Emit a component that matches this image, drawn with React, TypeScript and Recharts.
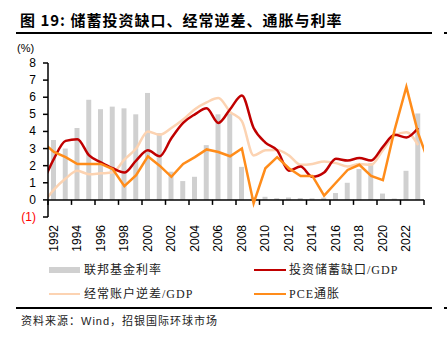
import React from 'react';
import {
  ComposedChart,
  Bar,
  Line,
  XAxis,
  YAxis,
  ReferenceLine,
} from 'recharts';

// 年份（线条含1991与2024两端点，用于延伸到坐标轴边缘）
const years = [
  1991, 1992, 1993, 1994, 1995, 1996, 1997, 1998, 1999, 2000, 2001, 2002,
  2003, 2004, 2005, 2006, 2007, 2008, 2009, 2010, 2011, 2012, 2013, 2014,
  2015, 2016, 2017, 2018, 2019, 2020, 2021, 2022, 2023, 2024,
];

const fedFunds = [
  null, 3.5, 3.0, 4.2, 5.85, 5.3, 5.45, 5.35, 5.0, 6.25, 3.9, 1.65,
  1.1, 1.35, 3.2, 5.0, 5.05, 1.93, 0.16, 0.18, 0.1, 0.14, 0.11, 0.09,
  0.13, 0.4, 1.0, 1.8, 2.15, 0.37, 0.08, 1.7, 5.05, null,
];

const investGap = [
  0.9, 2.4, 3.45, 3.55, 2.6, 2.2, 1.85, 1.6, 2.3, 2.9, 2.55, 3.6,
  4.5, 5.0, 5.35, 4.5, 5.3, 6.1, 4.2, 3.35, 2.9, 1.7, 1.95, 1.35,
  1.6, 2.4, 2.3, 2.45, 2.3, 3.1, 3.8, 3.65, 4.2, null,
];

const caDeficit = [
  -0.3, 0.6, 1.25, 1.7, 1.5, 1.55, 1.6, 2.35, 3.0, 4.0, 3.8, 4.2,
  4.7, 5.3, 5.7, 5.95, 5.15, 4.6, 2.6, 2.9, 2.92, 2.6, 2.05, 2.1,
  2.25, 2.15, 1.95, 2.1, 2.05, 2.9, 3.75, 3.95, 3.2, null,
];

const pce = [
  3.4, 2.8, 2.5, 2.1, 2.1, 2.1, 1.8, 0.8, 1.45, 2.55, 2.0, 1.35,
  2.1, 2.5, 2.95, 2.8, 2.55, 3.0, -0.2, 1.85, 2.5, 1.85, 1.4, 1.4,
  0.25, 1.0, 1.75, 2.05, 1.4, 1.15, 4.1, 6.6, 3.9, 2.0,
];

const yTicks = [-1, 0, 1, 2, 3, 4, 5, 6, 7, 8];
const xTickBounds = [
  1991.5, 1993.5, 1995.5, 1997.5, 1999.5, 2001.5, 2003.5, 2005.5, 2007.5,
  2009.5, 2011.5, 2013.5, 2015.5, 2017.5, 2019.5, 2021.5, 2023.5,
];

const data = years.map((y, i) => ({
  year: y,
  fed: fedFunds[i],
  gap: investGap[i],
  ca: caDeficit[i],
  pce: pce[i],
}));

const PLOT_LEFT = 48;
const PLOT_RIGHT = 424;
const PLOT_TOP = 63;
const PLOT_H = 154;
const ZERO_Y = PLOT_TOP + (PLOT_H * 8) / 9;
const HALF_BAND = (PLOT_RIGHT - PLOT_LEFT) / 32 / 2;

const XTick = (props: any) => {
  const { x, payload } = props;
  const year = payload.value + 0.5;
  const showLabel = year <= 2022 && (year - 1992) % 2 === 0;
  return (
    <g>
      <line x1={x} x2={x} y1={ZERO_Y} y2={ZERO_Y + 5} stroke="#000" strokeWidth={1.5} />
      {showLabel && (
        <text
          transform={`translate(${x + HALF_BAND},225) rotate(-90)`}
          textAnchor="end"
          dominantBaseline="central"
          fontSize={12}
          fill="#000"
          fontFamily="'Liberation Sans', Arial, sans-serif"
        >
          {year}
        </text>
      )}
    </g>
  );
};

const YTick = (props: any) => {
  const { x, y, payload } = props;
  const neg = payload.value < 0;
  return (
    <text
      x={x}
      y={y}
      textAnchor="end"
      dominantBaseline="central"
      fontSize={12}
      fill={neg ? '#ff0000' : '#000'}
      fontFamily="'Liberation Sans', Arial, sans-serif"
    >
      {neg ? `(${Math.abs(payload.value)})` : payload.value}
    </text>
  );
};

const legendText: React.CSSProperties = {
  position: 'absolute',
  fontSize: 12,
  fontFamily: "'Liberation Serif', 'Noto Sans CJK SC', serif",
  letterSpacing: 1,
  lineHeight: '14px',
  color: '#222',
};

export default function App() {
  return (
    <div
      style={{
        position: 'absolute',
        left: 0,
        top: 0,
        width: 447,
        height: 340,
        background: '#fff',
        overflow: 'hidden',
      }}
    >
      <div
        style={{
          position: 'absolute',
          left: 20,
          top: 10,
          fontSize: 15,
          fontWeight: 700,
          letterSpacing: 1,
          fontFamily: "'Noto Sans CJK SC', sans-serif",
          lineHeight: '20px',
          whiteSpace: 'nowrap',
        }}
      >
        图 19: 储蓄投资缺口、经常逆差、通胀与利率
      </div>
      <div style={{ position: 'absolute', left: 16, top: 32, width: 416, height: 2, background: '#000' }} />
      <div style={{ position: 'absolute', left: 444, top: 32, width: 3, height: 2, background: '#000' }} />
      <div
        style={{
          position: 'absolute',
          left: 17,
          top: 41,
          fontSize: 11,
          fontFamily: "'Liberation Sans', Arial, sans-serif",
          lineHeight: '14px',
        }}
      >
        (%)
      </div>

      <div style={{ position: 'absolute', left: 0, top: 0 }}>
        <ComposedChart
          width={447}
          height={290}
          data={data}
          margin={{ top: PLOT_TOP, right: 447 - PLOT_RIGHT, left: PLOT_LEFT - 30, bottom: 13 }}
        >
          <XAxis
            dataKey="year"
            type="number"
            domain={[1991.5, 2023.5]}
            allowDataOverflow
            ticks={xTickBounds}
            interval={0}
            axisLine={false}
            tickLine={false}
            tick={<XTick />}
            height={60}
          />
          <YAxis
            type="number"
            domain={[-1, 8]}
            ticks={yTicks}
            interval={0}
            width={30}
            tickSize={5}
            tickMargin={7}
            axisLine={{ stroke: '#000', strokeWidth: 1.5 }}
            tickLine={{ stroke: '#000', strokeWidth: 1.5 }}
            tick={<YTick />}
          />
          <Bar dataKey="fed" fill="#d0d0d0" barSize={5} isAnimationActive={false} />
          <ReferenceLine y={0} stroke="#000" strokeWidth={1.5} />
          <Line
            type="monotone"
            dataKey="ca"
            stroke="#fcd3b2"
            strokeWidth={2.5}
            dot={false}
            isAnimationActive={false}
          />
          <Line
            type="monotone"
            dataKey="gap"
            stroke="#c00000"
            strokeWidth={2.5}
            dot={false}
            isAnimationActive={false}
          />
          <Line
            type="linear"
            dataKey="pce"
            stroke="#ff8c1a"
            strokeWidth={2.5}
            dot={false}
            isAnimationActive={false}
          />
        </ComposedChart>
      </div>

      <div style={{ position: 'absolute', left: 49, top: 267, width: 31, height: 6, background: '#d0d0d0' }} />
      <div style={{ ...legendText, left: 84, top: 263 }}>联邦基金利率</div>
      <div style={{ position: 'absolute', left: 254, top: 269, width: 32, height: 2, background: '#c00000' }} />
      <div style={{ ...legendText, left: 289, top: 263 }}>投资储蓄缺口/GDP</div>
      <div style={{ position: 'absolute', left: 49, top: 293, width: 31, height: 2, background: '#fcd3b2' }} />
      <div style={{ ...legendText, left: 84, top: 287 }}>经常账户逆差/GDP</div>
      <div style={{ position: 'absolute', left: 254, top: 293, width: 32, height: 2, background: '#ff8c1a' }} />
      <div style={{ ...legendText, left: 289, top: 287 }}>PCE通胀</div>

      <div style={{ position: 'absolute', left: 16, top: 307, width: 416, height: 2, background: '#000' }} />
      <div style={{ position: 'absolute', left: 444, top: 307, width: 3, height: 2, background: '#000' }} />
      <div
        style={{
          position: 'absolute',
          left: 21,
          top: 314,
          fontSize: 11,
          fontFamily: "'Liberation Sans', 'Noto Sans CJK SC', sans-serif",
          letterSpacing: 1,
          lineHeight: '14px',
          color: '#222',
          whiteSpace: 'nowrap',
        }}
      >
        资料来源：Wind，招银国际环球市场
      </div>
    </div>
  );
}
